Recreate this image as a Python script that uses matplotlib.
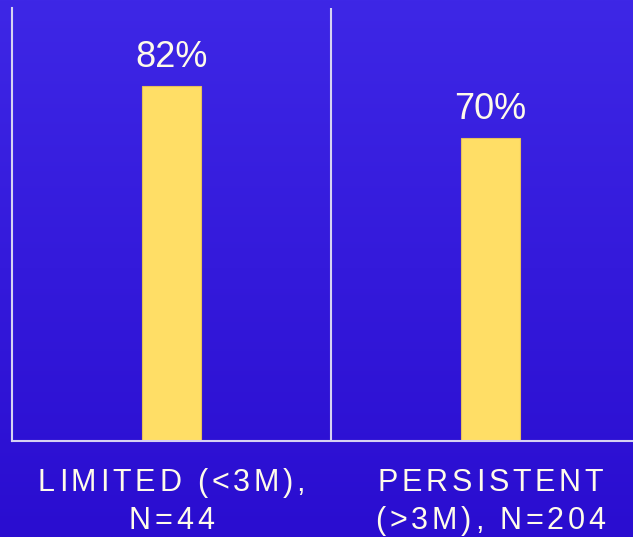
import numpy as np
import matplotlib.pyplot as plt
from matplotlib import font_manager
from matplotlib.ft2font import FT2Font

plt.rcParams['font.family'] = 'Liberation Sans'

categories = [['LIMITED (<3M),', 'N=44'], ['PERSISTENT', '(>3M), N=204']]
values = [82, 70]
value_labels = ['82%', '70%']

W, H = 633, 537
fig = plt.figure(figsize=(W / 100, H / 100), dpi=100)

# gradient background
bg = fig.add_axes([0, 0, 1, 1], zorder=0)
top = np.array([0x3E, 0x27, 0xE6]) / 255
bot = np.array([0x2A, 0x0D, 0xD0]) / 255
t = np.linspace(0, 1, 256)[:, None, None]
bg.imshow(top + (bot - top) * t, aspect='auto', extent=[0, 1, 0, 1])
bg.axis('off')

line_col = '#D6D2F2'
txt_col = '#FFFBEA'

ax = fig.add_axes([12 / W, (H - 441) / H, 638 / W, 433 / H], zorder=1)
ax.patch.set_alpha(0)
x = np.arange(len(values))
ax.bar(x, values, width=59 / 319, color='#FFDE66', edgecolor='#E6BE5A', linewidth=0.8)
ax.set_xlim(-0.5, len(values) - 0.5)
ax.set_ylim(0, 100)
for s in ['top', 'right']:
    ax.spines[s].set_visible(False)
for s in ['left', 'bottom']:
    ax.spines[s].set_color(line_col)
    ax.spines[s].set_linewidth(1.5)
for xi in x[:-1]:
    ax.axvline(xi + 0.5, color=line_col, lw=1.5)
ax.set_xticks([])
ax.set_yticks([])

for xi, v, lab in zip(x, values, value_labels):
    ax.annotate(lab, (xi, v), xytext=(0, 13.7), textcoords='offset points',
                ha='center', va='baseline', fontsize=26, color=txt_col)

# letter-spaced category labels
fsize = 22
spacing = 3.8
font = FT2Font(font_manager.findfont('Liberation Sans'))
font.set_size(fsize, 100)


def advance(ch):
    g = font.load_char(ord(ch))
    return g.linearHoriAdvance / 65536


def spaced_text(s, cx, base_y):
    widths = [advance(c) for c in s]
    total = sum(widths) + spacing * (len(s) - 1)
    px = cx - total / 2
    for c, w in zip(s, widths):
        fig.text(px / W, 1 - base_y / H, c, ha='left', va='baseline',
                 fontsize=fsize, color=txt_col)
        px += w + spacing


for xi, lines in zip(x, categories):
    cx = ax.transData.transform((xi, 0))[0]
    for k, line in enumerate(lines):
        spaced_text(line, cx, 491 + 38 * k)

fig.savefig('out.png', dpi=100)
